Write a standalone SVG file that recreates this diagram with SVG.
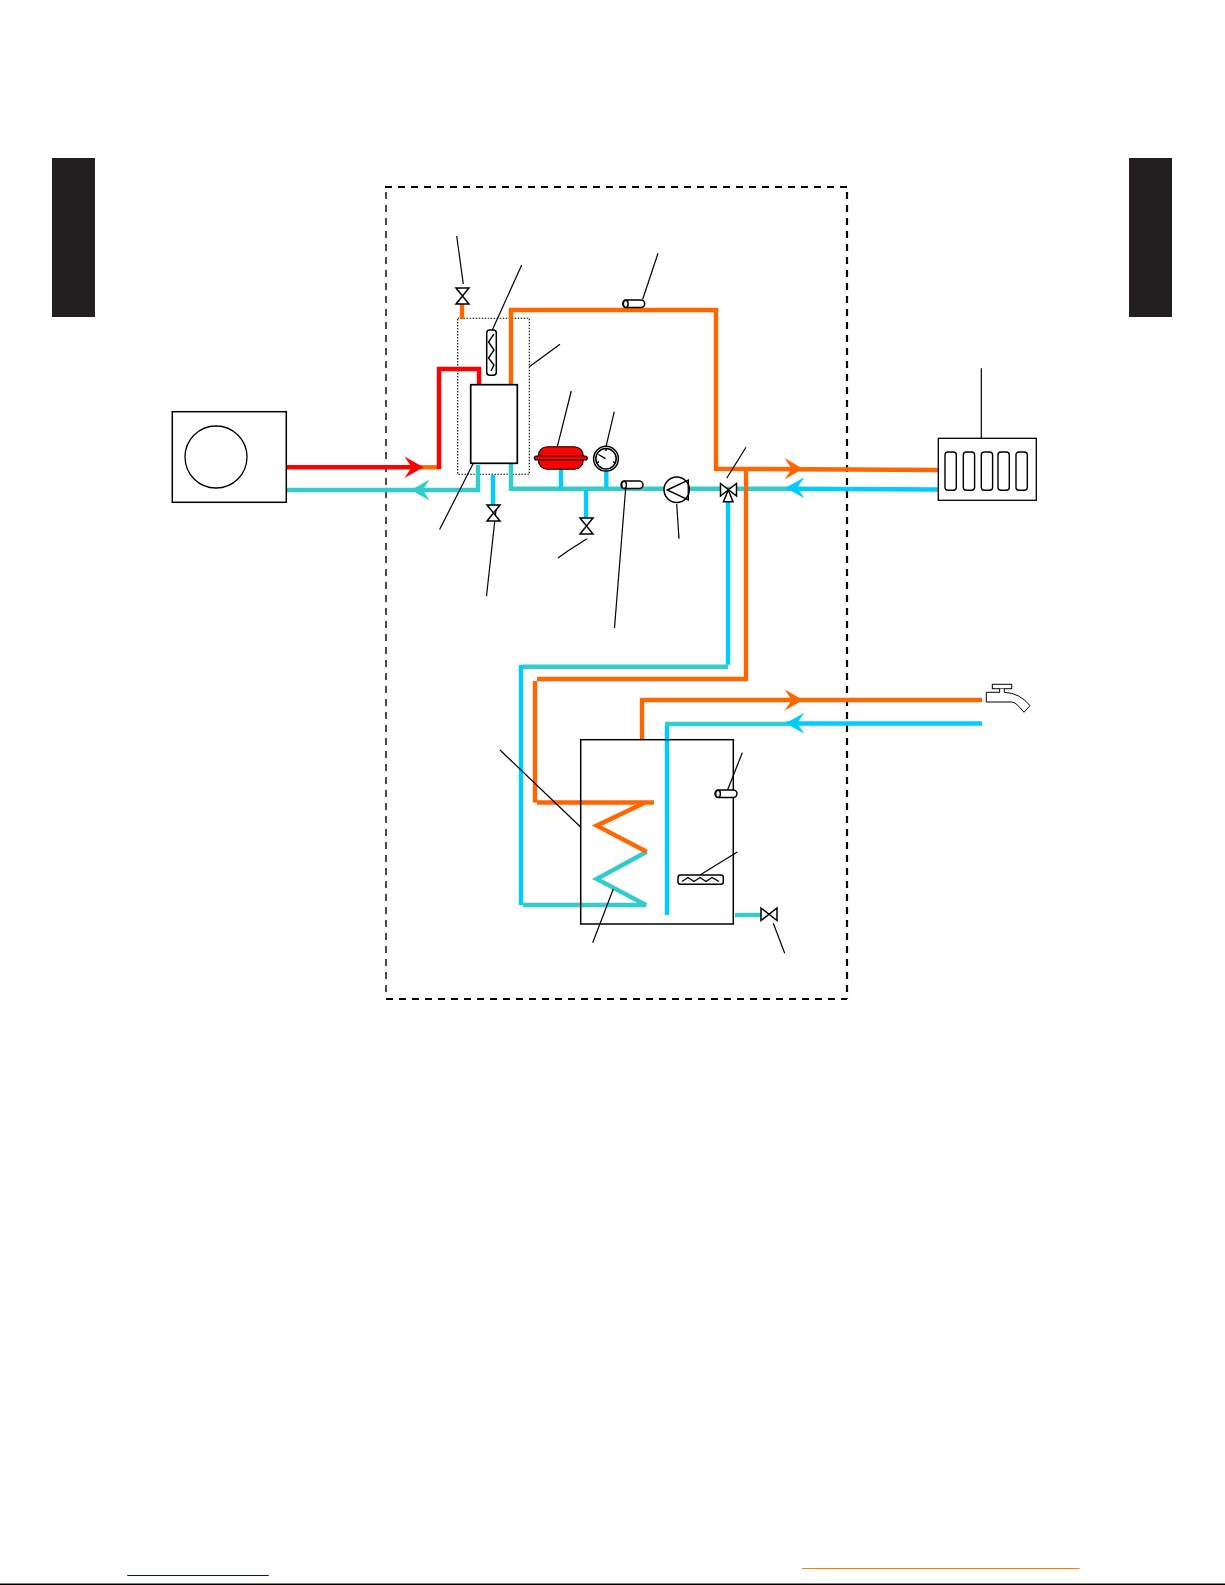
<svg xmlns="http://www.w3.org/2000/svg" width="1225" height="1585" viewBox="0 0 1225 1585">
<defs>
<style>
.o{fill:none;stroke:#ff6600;stroke-width:4.4}
.r{fill:none;stroke:#ff0000;stroke-width:4.4}
.t{fill:none;stroke:#33cccc;stroke-width:4.4}
.b{fill:none;stroke:#00ccff;stroke-width:4.4}
.s{fill:#fff;stroke:#000;stroke-width:1.5}
.k{fill:none;stroke:#000;stroke-width:1.2}
.f{fill:none;stroke:#000;stroke-width:1.4}
</style>
<g id="sensor"><rect x="0" y="0" width="22" height="7.6" rx="3.8" class="s"/><ellipse cx="3" cy="3.8" rx="2.4" ry="3.6" class="s"/></g>
<g id="valve"><path d="M0 0H13L0 16H13Z" class="s"/></g>
</defs>
<rect width="1225" height="1585" fill="#fff"/>
<rect id="tab-left" x="52" y="158" width="43" height="159" fill="#231f20"/>
<rect id="tab-right" x="1129" y="158" width="43" height="159" fill="#231f20"/>
<g id="boundary" fill="none" stroke="#000">
<path d="M386 192V996" stroke-width="1.4" stroke-dasharray="7 6"/>
<path d="M385 187H847" stroke-width="2.2" stroke-dasharray="7 6"/>
<path d="M847 192V999" stroke-width="2.2" stroke-dasharray="7 6"/>
<path d="M386 999H847" stroke-width="2.2" stroke-dasharray="7 6"/>
</g>
<rect id="module-outline" x="457.7" y="318.3" width="71.6" height="156" fill="none" stroke="#000" stroke-width="1.1" stroke-dasharray="1.5 1.5"/>
<g id="connectors">
<path class="o" d="M415 467.3H439"/>
<path class="r" d="M286 467.3H412"/>
<path class="r" d="M439 469V369H479V385"/>
<path class="t" d="M286 490H478V465"/>
<path class="b" d="M493 475V506"/>
<path class="o" d="M462 304V319"/>
<path class="o" d="M511 384V310H716V468.7L938 470"/>
<path class="t" d="M511 463V488.7H786"/>
<path class="b" d="M786 488.7L938 489.5"/>
<path class="b" d="M561 469V488"/>
<path class="b" d="M606.3 471V488"/>
<path class="b" d="M586 490V518"/>
<path class="o" d="M746 469V679H537"/>
<path class="o" d="M535 681V802.5"/>
<path class="o" d="M537 802.5H654"/>
<path class="b" d="M728 502V664.7"/>
<path class="t" d="M728 666.7H523"/>
<path class="b" d="M521 665V905"/>
<path class="t" d="M523 905H646L596.7 879L646.7 851.7"/>
<path class="o" d="M646.7 851.7L596.7 825.7L644.7 802.7"/>
<path class="o" d="M642 740V700H982"/>
<path class="b" d="M667 915V726"/>
<path class="t" d="M665 724H786"/>
<path class="b" d="M786 723.5H982"/>
<path class="t" d="M735 915H762"/>
<path fill="#ff0000" d="M423.5 467.3L404.5 456.5L411.7 467.3L404.5 478Z"/>
<path fill="#33cccc" d="M411 490L429.5 479.5L423 490L429.5 500.5Z"/>
<path fill="#ff6600" d="M803 468.7L784.5 458L791.7 468.7L784.5 479.5Z"/>
<path fill="#00ccff" d="M785.5 487.7L804.5 477.2L797 487.7L804.5 498.2Z"/>
<path fill="#ff6600" d="M803 700L784.5 689.3L791.7 700L784.5 710.7Z"/>
<path fill="#00ccff" d="M785.5 723.3L804.5 712.8L797 723.3L804.5 733.8Z"/>
</g>
<g id="leaders">
<path class="k" d="M456.7 236L463.3 284"/>
<path class="k" d="M521.7 265L492.3 330"/>
<path class="k" d="M658 253.3L642.7 299.3"/>
<path class="k" d="M529.3 366.7L560 344.3"/>
<path class="k" d="M571.3 391L557.3 446.7"/>
<path class="k" d="M614.3 411.7L606 446.7"/>
<path class="k" d="M746 447.3L726.7 478.3"/>
<path class="k" d="M473.3 463.3L439.6 529.6"/>
<path class="k" d="M496 510L486.5 596"/>
<path class="k" d="M587 538.7L568.5 550.5L558 558"/>
<path class="k" d="M625.7 488L614.5 628"/>
<path class="k" d="M676.7 504L679 538.7"/>
<path class="k" d="M981.3 368.3V438"/>
<path class="k" d="M500 750L580.3 826.7"/>
<path class="k" d="M613.3 889L592.7 942.7"/>
<path class="k" d="M742.3 752.7L727.3 790.7"/>
<path class="k" d="M737.3 852L700 875"/>
<path class="k" d="M773.3 923.3L784.7 953.3"/>
</g>
<g id="outdoor-unit"><rect x="172.3" y="411.7" width="114" height="90.6" fill="#fff" stroke="#000" stroke-width="1.5"/><circle cx="216" cy="457" r="31" fill="none" stroke="#000" stroke-width="1.3"/></g>
<g id="heat-exchanger"><rect x="470.7" y="384.7" width="46.6" height="78.6" fill="#fff" stroke="#000" stroke-width="1.7"/></g>
<g id="backup-heater"><rect x="486.7" y="330" width="9.6" height="45.3" rx="3" class="s"/><path class="f" d="M494 334L488.5 342L494 350L488.5 358L494 365L491 371"/></g>
<g id="expansion-vessel"><rect x="538.3" y="446.7" width="45" height="22.6" rx="9" fill="#ff0000" stroke="#000" stroke-width="1.1"/><rect x="534.3" y="456" width="53" height="4" rx="2" fill="#ff0000" stroke="#000" stroke-width="1.1"/></g>
<g id="gauge"><circle cx="606" cy="458.7" r="12.4" class="s"/><circle cx="606" cy="458.7" r="10.2" class="s"/><path class="f" d="M598.5 454.5L605.5 458.7M597 463L599 461.5M615 463L613 461.5M606 449V451"/></g>
<use id="sensor-top" href="#sensor" x="622.7" y="300"/>
<use id="sensor-return" href="#sensor" x="621" y="481"/>
<g id="pump"><circle cx="676.7" cy="489.7" r="12.7" class="s"/><path class="f" d="M667.3 490L688.3 480V500Z"/></g>
<g id="three-way-valve"><path class="s" d="M720.5 483.5L736.5 496V483.5L720.5 496Z"/><path class="s" d="M728.3 490L723.5 501.7H733Z"/></g>
<use id="valve-top" href="#valve" x="456" y="288"/>
<use id="valve-filling" href="#valve" x="487" y="505"/>
<use id="valve-drain" href="#valve" x="580" y="518"/>
<g id="radiator"><rect x="938.3" y="438.3" width="98" height="62" fill="#fff" stroke="#000" stroke-width="1.3"/>
<rect x="945" y="452" width="11.3" height="38.3" rx="3" class="f"/><rect x="963.3" y="452" width="11.3" height="38.3" rx="3" class="f"/><rect x="981.3" y="452" width="11.3" height="38.3" rx="3" class="f"/><rect x="998" y="452" width="11.3" height="38.3" rx="3" class="f"/><rect x="1016" y="452" width="11.3" height="38.3" rx="3" class="f"/></g>
<g id="faucet"><rect x="992.3" y="684.3" width="19.4" height="4.4" fill="#fff" stroke="#000"/><path d="M999.7 688.7V692.3H986.3V702H1011.7Q1016 702 1024 712.3L1030 705.7Q1020 693 1004.3 692.3V688.7" fill="#fff" stroke="#000"/></g>
<g id="tank"><rect x="580.7" y="739.7" width="152.6" height="184.3" fill="none" stroke="#000" stroke-width="1.5"/></g>
<g id="tank-element"><rect x="678" y="875" width="45.3" height="9.3" rx="2.5" class="s"/><path class="f" d="M682 881.5L688 877.5L694 881.5L700 877.5L706 881.5L712 877.5L719 881.5"/></g>
<use id="tank-sensor" href="#sensor" x="715" y="790"/>
<g id="tank-drain-valve"><path class="s" d="M761 908L777 920.5V908L761 920.5Z"/></g>
<g id="footer"><path d="M127.3 1575.5H268.7" stroke="#0000cc" stroke-width="1"/><path d="M802 1568.5H1079.5" stroke="#ff8000" stroke-width="1"/><path d="M0 1584.3H1225" stroke="#000" stroke-width="1.4"/></g>
</svg>
